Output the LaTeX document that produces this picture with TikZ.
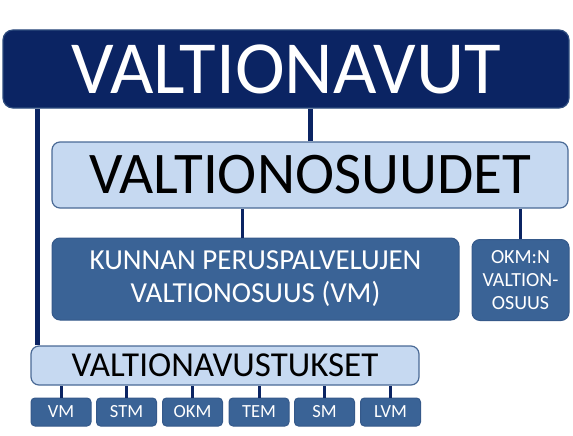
\documentclass[tikz,border=0pt]{standalone}
\usepackage{fontspec}
\setmainfont{Carlito}
\usepackage{xcolor}
\definecolor{navy}{HTML}{0B2463}
\definecolor{navyedge}{HTML}{2E4C7E}
\definecolor{paleblue}{HTML}{C6D9F1}
\definecolor{paleedge}{HTML}{4A6A96}
\definecolor{midblue}{HTML}{3A6396}
\definecolor{midedge}{HTML}{35598A}

\tikzset{
        topbox/.style={draw=navyedge, fill=navy, text=white, rounded corners=10pt, line width=1.2pt, inner sep=0pt},
        palebox/.style={draw=paleedge, fill=paleblue, text=black, rounded corners=8pt, line width=1.2pt, inner sep=0pt},
        midbox/.style={draw=midedge, fill=midblue, text=white, rounded corners=8pt, line width=1pt, inner sep=0pt, align=center},
        tinybox/.style={midbox, rounded corners=4pt, minimum width=60pt, minimum height=28pt, font=\fontsize{18.5}{20}\selectfont},
        mainlink/.style={draw=navy, line width=5pt},
        sublink/.style={draw=navy, line width=3pt}
}

\begin{document}
\begin{tikzpicture}[x=1pt, y=-1pt]
        \useasboundingbox (0,0) rectangle (573,436);

        \node [topbox, minimum width=566pt, minimum height=78pt, font=\fontsize{75}{80}\selectfont] (valtionavut) at (286,69) {VALTIONAVUT};
        \node [palebox, minimum width=516pt, minimum height=66pt, font=\fontsize{59}{62}\selectfont] (osuudet) at (310,175) {VALTIONOSUUDET};
        \node [midbox, minimum width=407pt, minimum height=82pt, font=\fontsize{29}{33}\selectfont] (kunnan) at (255.5,279) {KUNNAN PERUSPALVELUJEN\\VALTIONOSUUS (VM)};
        \node [midbox, minimum width=97pt, minimum height=81pt, font=\fontsize{20}{23}\selectfont] (okmn) at (520.5,280) {OKM:N\\VALTION-\\OSUUS};
        \node [palebox, minimum width=388pt, minimum height=39pt, font=\fontsize{35}{38}\selectfont] (avustukset) at (225,365.5) {VALTIONAVUSTUKSET};

        % ministeriot
        \foreach \name/\px in {VM/61, STM/126.5, OKM/192.5, TEM/259, SM/324.5, LVM/390.5}
                \node [tinybox] (m\name) at (\px,412) {\name};

        \draw [mainlink] (osuudet.north) to (osuudet.north |- valtionavut.south);
        \draw [mainlink] ([xshift=7pt]avustukset.north west) to ([xshift=7pt]avustukset.north west |- valtionavut.south);

        \draw [sublink] ([xshift=-13.5pt]kunnan.north) to ([xshift=-13.5pt]kunnan.north |- osuudet.south);
        \draw [sublink] (okmn.north) to (okmn.north |- osuudet.south);

        \foreach \name in {VM, STM, OKM, TEM, SM, LVM}
                \draw [sublink] (m\name.north) to (m\name.north |- avustukset.south);
\end{tikzpicture}
\end{document}
